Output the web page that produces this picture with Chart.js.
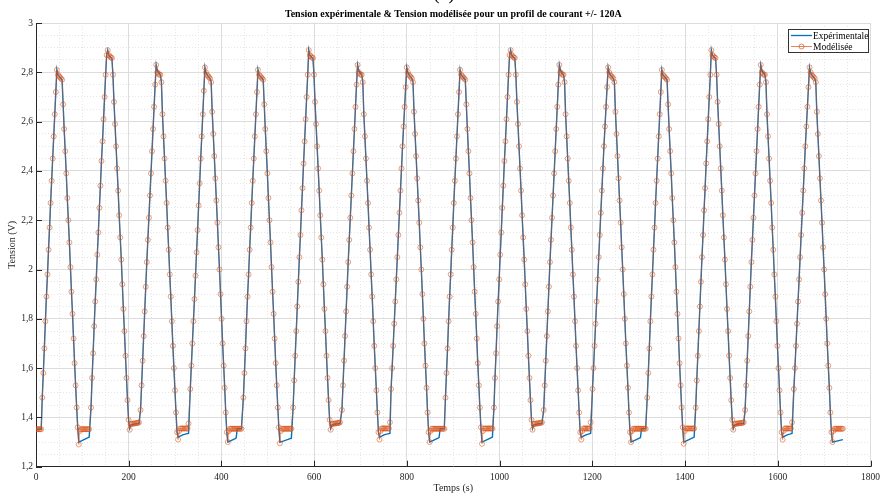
<!DOCTYPE html>
<html>
<head>
<meta charset="utf-8">
<script src="https://cdn.jsdelivr.net/npm/chart.js@4.4.1/dist/chart.umd.min.js"></script>
<style>
  html, body { margin: 0; padding: 0; background: #fff; }
  #wrap { width: 885px; height: 494px; }
</style>
</head>
<body>
<div id="wrap"><canvas id="chart" width="885" height="494"></canvas></div>
<script>
// sampling period of the recorded profile (s) and start time of each cycle (s)
const sampleStep = 2.25;
const cycleStart = [0, 118.7, 225.5, 332.8, 447.3, 554.6, 659.9, 765.9, 883.2, 987.8, 1095.1, 1200.3, 1318.4, 1423.0, 1529.5, 1634.7];

// Tension modélisée (V), one array per cycle
const modelCycles = [
  [1.352,1.352,1.352,1.352,1.352,1.352, 1.48,1.58,1.68,1.79,1.89,1.98,2.08,2.17,2.27,2.36,2.45,2.54,2.63,2.72,2.81, 2.79,2.785,2.78,2.775,2.77, 2.67,2.57,2.48,2.39,2.29,2.2,2.11,2.01,1.91,1.82,1.72,1.62,1.53,1.44,1.36, 1.29, 1.345,1.352,1.352,1.352,1.352,1.352,1.352,1.352,1.352,1.352],
  [1.44,1.56,1.66,1.77,1.87,1.96,2.06,2.15,2.25,2.34,2.44,2.52,2.61,2.7,2.79,2.87,2.89, 2.87,2.865,2.86,2.858, 2.79,2.68,2.59,2.5,2.41,2.32,2.22,2.13,2.04,1.94,1.84,1.75,1.65,1.56,1.47,1.39, 1.35, 1.372,1.374,1.375,1.375,1.376,1.376,1.377,1.378,1.38],
  [1.43,1.53,1.63,1.73,1.83,1.93,2.03,2.12,2.21,2.3,2.39,2.48,2.57,2.66,2.75,2.83, 2.8,2.795,2.79,2.79, 2.76,2.63,2.54,2.45,2.36,2.27,2.17,2.08,1.98,1.89,1.79,1.69,1.6,1.51,1.42,1.34, 1.31, 1.345,1.355,1.355,1.355,1.355,1.355,1.355,1.355,1.355,1.375],
  [1.515,1.61,1.7,1.79,1.88,1.975,2.07,2.16,2.26,2.35,2.45,2.54,2.63,2.725,2.82, 2.8,2.79,2.785,2.78,2.775, 2.76,2.64,2.55,2.46,2.37,2.28,2.19,2.09,2.0,1.9,1.8,1.7,1.61,1.52,1.42,1.34, 1.3, 1.345,1.354,1.354,1.354,1.354,1.354,1.354,1.354,1.354,1.354,1.354,1.354,1.354],
  [1.48,1.58,1.68,1.79,1.89,1.98,2.08,2.17,2.27,2.36,2.45,2.54,2.63,2.72,2.81, 2.79,2.785,2.78,2.775,2.77, 2.67,2.57,2.48,2.39,2.29,2.2,2.11,2.01,1.91,1.82,1.72,1.62,1.53,1.44,1.36, 1.295, 1.345,1.354,1.354,1.354,1.354,1.354,1.354,1.354,1.354,1.354,1.354],
  [1.44,1.55,1.65,1.75,1.85,1.95,2.05,2.14,2.24,2.33,2.43,2.52,2.61,2.7,2.79,2.89, 2.87,2.865,2.86,2.858, 2.79,2.68,2.59,2.5,2.41,2.32,2.22,2.13,2.04,1.94,1.84,1.75,1.65,1.56,1.47,1.39, 1.35, 1.372,1.374,1.375,1.375,1.376,1.376,1.377,1.378,1.38],
  [1.43,1.53,1.63,1.73,1.83,1.93,2.03,2.12,2.21,2.3,2.39,2.48,2.57,2.66,2.75,2.83, 2.8,2.795,2.79,2.79, 2.76,2.63,2.54,2.45,2.36,2.27,2.17,2.08,1.98,1.89,1.79,1.69,1.6,1.51,1.42,1.34, 1.31, 1.345,1.355,1.355,1.355,1.355,1.355,1.355,1.355,1.355,1.38],
  [1.515,1.6,1.69,1.78,1.87,1.96,2.05,2.14,2.23,2.32,2.41,2.5,2.58,2.66,2.74,2.82, 2.8,2.79,2.785,2.78,2.775, 2.76,2.64,2.55,2.46,2.37,2.28,2.19,2.09,2.0,1.9,1.8,1.7,1.61,1.52,1.42,1.34, 1.3, 1.345,1.354,1.354,1.354,1.354,1.354,1.354,1.354,1.354,1.354,1.354,1.354,1.354,1.354],
  [1.48,1.58,1.68,1.79,1.89,1.98,2.08,2.17,2.27,2.36,2.45,2.54,2.63,2.72,2.81, 2.79,2.785,2.78,2.775,2.77, 2.67,2.57,2.48,2.39,2.29,2.2,2.11,2.01,1.91,1.82,1.72,1.62,1.53,1.44,1.36, 1.293, 1.345,1.355,1.355,1.355,1.355,1.355,1.355,1.355,1.355,1.355],
  [1.44,1.56,1.66,1.77,1.87,1.96,2.06,2.15,2.25,2.34,2.44,2.52,2.61,2.7,2.79,2.87,2.89, 2.87,2.865,2.86,2.858, 2.79,2.68,2.59,2.5,2.41,2.32,2.22,2.13,2.04,1.94,1.84,1.75,1.65,1.56,1.47,1.39, 1.35, 1.372,1.374,1.375,1.375,1.376,1.376,1.377,1.378,1.38],
  [1.43,1.53,1.63,1.73,1.83,1.93,2.03,2.12,2.21,2.3,2.39,2.48,2.57,2.66,2.75,2.83, 2.8,2.795,2.79,2.79, 2.76,2.63,2.54,2.45,2.36,2.27,2.17,2.08,1.98,1.89,1.79,1.69,1.6,1.51,1.42,1.34, 1.31, 1.345,1.355,1.355,1.355,1.355,1.355,1.355,1.355,1.38],
  [1.515,1.6,1.69,1.78,1.87,1.96,2.05,2.14,2.23,2.32,2.41,2.5,2.58,2.66,2.74,2.82, 2.8,2.79,2.785,2.78,2.775, 2.76,2.64,2.55,2.46,2.37,2.28,2.19,2.09,2.0,1.9,1.8,1.7,1.61,1.52,1.42,1.34, 1.3, 1.345,1.354,1.354,1.354,1.354,1.354,1.354,1.354,1.354,1.354,1.354,1.354,1.354,1.354],
  [1.48,1.58,1.68,1.79,1.89,1.98,2.08,2.17,2.27,2.36,2.45,2.54,2.63,2.72,2.81, 2.79,2.785,2.78,2.775,2.77, 2.67,2.57,2.48,2.39,2.29,2.2,2.11,2.01,1.91,1.82,1.72,1.62,1.53,1.44,1.36, 1.293, 1.345,1.355,1.355,1.355,1.355,1.355,1.355,1.355,1.355,1.355],
  [1.44,1.55,1.65,1.75,1.85,1.95,2.05,2.14,2.24,2.33,2.43,2.52,2.61,2.7,2.79,2.89, 2.87,2.865,2.86,2.858, 2.79,2.68,2.59,2.5,2.41,2.32,2.22,2.13,2.04,1.94,1.84,1.75,1.65,1.56,1.47,1.39, 1.35, 1.372,1.374,1.375,1.375,1.376,1.376,1.377,1.377,1.378,1.38],
  [1.43,1.53,1.63,1.73,1.83,1.93,2.03,2.12,2.21,2.3,2.39,2.48,2.57,2.66,2.75,2.83, 2.8,2.795,2.79,2.79, 2.76,2.63,2.54,2.45,2.36,2.27,2.17,2.08,1.98,1.89,1.79,1.69,1.6,1.51,1.42,1.34, 1.31, 1.345,1.355,1.355,1.355,1.355,1.355,1.355,1.355,1.38],
  [1.515,1.6,1.69,1.78,1.87,1.96,2.05,2.14,2.23,2.32,2.41,2.5,2.58,2.66,2.74,2.82, 2.8,2.79,2.785,2.78,2.775, 2.76,2.64,2.55,2.46,2.37,2.28,2.19,2.09,2.0,1.9,1.8,1.7,1.61,1.52,1.42,1.34, 1.3, 1.345,1.354,1.354,1.354,1.354,1.354,1.354,1.354,1.354,1.354]
];

// Tension expérimentale (V), same sampling
const expCycles = [
  [1.352,1.352,1.352,1.352,1.352,1.352, 1.48,1.58,1.68,1.79,1.89,1.98,2.08,2.17,2.27,2.36,2.45,2.54,2.63,2.72,2.81, 2.79,2.785,2.78,2.775,2.77, 2.67,2.57,2.48,2.39,2.29,2.2,2.11,2.01,1.91,1.82,1.72,1.62,1.53,1.44,1.36, 1.3, 1.302,1.304,1.306,1.308,1.31,1.312,1.314,1.316,1.318,1.32],
  [1.44,1.56,1.66,1.77,1.87,1.96,2.06,2.15,2.25,2.34,2.44,2.52,2.61,2.7,2.79,2.87,2.89, 2.87,2.865,2.86,2.858, 2.79,2.68,2.59,2.5,2.41,2.32,2.22,2.13,2.04,1.94,1.84,1.75,1.65,1.56,1.47,1.39, 1.355, 1.368,1.37,1.371,1.372,1.373,1.374,1.374,1.375,1.376],
  [1.43,1.53,1.63,1.73,1.83,1.93,2.03,2.12,2.21,2.3,2.39,2.48,2.57,2.66,2.75,2.83, 2.81,2.8,2.795,2.79, 2.76,2.63,2.54,2.45,2.36,2.27,2.17,2.08,1.98,1.89,1.79,1.69,1.6,1.51,1.42,1.34, 1.32, 1.322,1.324,1.326,1.328,1.33,1.331,1.332,1.333,1.334,1.335],
  [1.515,1.61,1.7,1.79,1.88,1.975,2.07,2.16,2.26,2.35,2.45,2.54,2.63,2.725,2.82, 2.8,2.79,2.785,2.78,2.775, 2.76,2.64,2.55,2.46,2.37,2.28,2.19,2.09,2.0,1.9,1.8,1.7,1.61,1.52,1.42,1.34, 1.3, 1.302,1.304,1.306,1.308,1.31,1.312,1.314,1.317,1.354,1.354,1.354,1.354,1.354],
  [1.48,1.58,1.68,1.79,1.89,1.98,2.08,2.17,2.27,2.36,2.45,2.54,2.63,2.72,2.81, 2.79,2.785,2.78,2.775,2.77, 2.67,2.57,2.48,2.39,2.29,2.2,2.11,2.01,1.91,1.82,1.72,1.62,1.53,1.44,1.36, 1.3, 1.301,1.302,1.304,1.305,1.307,1.308,1.31,1.311,1.313,1.314,1.315],
  [1.44,1.55,1.65,1.75,1.85,1.95,2.05,2.14,2.24,2.33,2.43,2.52,2.61,2.7,2.79,2.89, 2.87,2.865,2.86,2.858, 2.79,2.68,2.59,2.5,2.41,2.32,2.22,2.13,2.04,1.94,1.84,1.75,1.65,1.56,1.47,1.39, 1.355, 1.368,1.37,1.371,1.372,1.373,1.374,1.374,1.375,1.376],
  [1.43,1.53,1.63,1.73,1.83,1.93,2.03,2.12,2.21,2.3,2.39,2.48,2.57,2.66,2.75,2.83, 2.81,2.8,2.795,2.79, 2.76,2.63,2.54,2.45,2.36,2.27,2.17,2.08,1.98,1.89,1.79,1.69,1.6,1.51,1.42,1.34, 1.32, 1.322,1.324,1.326,1.328,1.33,1.331,1.332,1.333,1.334,1.335],
  [1.515,1.6,1.69,1.78,1.87,1.96,2.05,2.14,2.23,2.32,2.41,2.5,2.58,2.66,2.74,2.82, 2.8,2.79,2.785,2.78,2.775, 2.76,2.64,2.55,2.46,2.37,2.28,2.19,2.09,2.0,1.9,1.8,1.7,1.61,1.52,1.42,1.34, 1.3, 1.302,1.304,1.306,1.308,1.31,1.312,1.314,1.316,1.318,1.354,1.354,1.354,1.354,1.354],
  [1.48,1.58,1.68,1.79,1.89,1.98,2.08,2.17,2.27,2.36,2.45,2.54,2.63,2.72,2.81, 2.79,2.785,2.78,2.775,2.77, 2.67,2.57,2.48,2.39,2.29,2.2,2.11,2.01,1.91,1.82,1.72,1.62,1.53,1.44,1.36, 1.3, 1.302,1.304,1.306,1.308,1.31,1.312,1.314,1.316,1.318,1.32],
  [1.44,1.56,1.66,1.77,1.87,1.96,2.06,2.15,2.25,2.34,2.44,2.52,2.61,2.7,2.79,2.87,2.89, 2.87,2.865,2.86,2.858, 2.79,2.68,2.59,2.5,2.41,2.32,2.22,2.13,2.04,1.94,1.84,1.75,1.65,1.56,1.47,1.39, 1.355, 1.368,1.37,1.371,1.372,1.373,1.374,1.374,1.375,1.376],
  [1.43,1.53,1.63,1.73,1.83,1.93,2.03,2.12,2.21,2.3,2.39,2.48,2.57,2.66,2.75,2.83, 2.81,2.8,2.795,2.79, 2.76,2.63,2.54,2.45,2.36,2.27,2.17,2.08,1.98,1.89,1.79,1.69,1.6,1.51,1.42,1.34, 1.32, 1.322,1.324,1.326,1.328,1.33,1.331,1.332,1.334,1.335],
  [1.515,1.6,1.69,1.78,1.87,1.96,2.05,2.14,2.23,2.32,2.41,2.5,2.58,2.66,2.74,2.82, 2.8,2.79,2.785,2.78,2.775, 2.76,2.64,2.55,2.46,2.37,2.28,2.19,2.09,2.0,1.9,1.8,1.7,1.61,1.52,1.42,1.34, 1.3, 1.302,1.304,1.306,1.308,1.31,1.312,1.314,1.316,1.318,1.354,1.354,1.354,1.354,1.354],
  [1.48,1.58,1.68,1.79,1.89,1.98,2.08,2.17,2.27,2.36,2.45,2.54,2.63,2.72,2.81, 2.79,2.785,2.78,2.775,2.77, 2.67,2.57,2.48,2.39,2.29,2.2,2.11,2.01,1.91,1.82,1.72,1.62,1.53,1.44,1.36, 1.3, 1.302,1.304,1.306,1.308,1.31,1.312,1.314,1.316,1.318,1.32],
  [1.44,1.55,1.65,1.75,1.85,1.95,2.05,2.14,2.24,2.33,2.43,2.52,2.61,2.7,2.79,2.89, 2.87,2.865,2.86,2.858, 2.79,2.68,2.59,2.5,2.41,2.32,2.22,2.13,2.04,1.94,1.84,1.75,1.65,1.56,1.47,1.39, 1.355, 1.368,1.37,1.371,1.372,1.373,1.374,1.374,1.375,1.375,1.376],
  [1.43,1.53,1.63,1.73,1.83,1.93,2.03,2.12,2.21,2.3,2.39,2.48,2.57,2.66,2.75,2.83, 2.81,2.8,2.795,2.79, 2.76,2.63,2.54,2.45,2.36,2.27,2.17,2.08,1.98,1.89,1.79,1.69,1.6,1.51,1.42,1.34, 1.32, 1.322,1.324,1.326,1.328,1.33,1.331,1.332,1.334,1.335],
  [1.515,1.6,1.69,1.78,1.87,1.96,2.05,2.14,2.23,2.32,2.41,2.5,2.58,2.66,2.74,2.82, 2.8,2.79,2.785,2.78,2.775, 2.76,2.64,2.55,2.46,2.37,2.28,2.19,2.09,2.0,1.9,1.8,1.7,1.61,1.52,1.42,1.34, 1.3, 1.301,1.302,1.303,1.304,1.305,1.306,1.307,1.308,1.309,1.31]
];

const xTicks = [0, 200, 400, 600, 800, 1000, 1200, 1400, 1600, 1800];
const yTicks = [1.2, 1.4, 1.6, 1.8, 2, 2.2, 2.4, 2.6, 2.8, 3];

const titleText = 'Tension expérimentale & Tension modélisée pour un profil de courant +/- 120A';
const serif = '"Liberation Serif", "Times New Roman", serif';
const blue = '#0072BD';
const orange = '#D95319';
const orangeSoft = 'rgba(217,83,25,0.8)';

function toPoints(cycles) {
  return cycles.flatMap((vals, c) => vals.map((v, i) => ({ x: cycleStart[c] + i * sampleStep, y: v })));
}

// title, legend box and inward ticks in the MATLAB style
const decor = {
  id: 'decor',
  afterDraw(chart) {
    const ctx = chart.ctx;
    const a = chart.chartArea;
    const sx = chart.scales.x, sy = chart.scales.y;
    ctx.save();

    ctx.strokeStyle = '#262626';
    ctx.lineWidth = 1;
    ctx.beginPath();
    xTicks.forEach(v => {
      const px = Math.round(sx.getPixelForValue(v)) + 0.5;
      ctx.moveTo(px, a.bottom);
      ctx.lineTo(px, a.bottom - 6);
    });
    yTicks.forEach(v => {
      const py = Math.round(sy.getPixelForValue(v)) + 0.5;
      ctx.moveTo(a.left, py);
      ctx.lineTo(a.left + 6, py);
    });
    ctx.stroke();

    ctx.fillStyle = '#000';
    ctx.textAlign = 'center';
    ctx.textBaseline = 'alphabetic';
    ctx.font = '20px ' + serif;
    ctx.fillText('(a)', 444, -1);

    ctx.font = 'bold 10px ' + serif;
    ctx.textBaseline = 'middle';
    ctx.fillText(titleText, (a.left + a.right) / 2, 14);

    // legend
    const bx = 788.5, by = 29.5, bw = 80, bh = 23;
    ctx.fillStyle = '#fff';
    ctx.fillRect(bx, by, bw, bh);
    ctx.strokeStyle = '#333';
    ctx.strokeRect(bx, by, bw, bh);
    ctx.lineWidth = 1.3;
    ctx.strokeStyle = blue;
    ctx.beginPath();
    ctx.moveTo(791, 35.5); ctx.lineTo(812, 35.5);
    ctx.stroke();
    ctx.lineWidth = 0.9;
    ctx.strokeStyle = orangeSoft;
    ctx.beginPath();
    ctx.moveTo(791, 46.5); ctx.lineTo(812, 46.5);
    ctx.stroke();
    ctx.beginPath();
    ctx.arc(801.5, 46.5, 2.5, 0, Math.PI * 2);
    ctx.stroke();
    ctx.fillStyle = '#000';
    ctx.textAlign = 'left';
    ctx.font = '9.5px ' + serif;
    ctx.fillText('Expérimentale', 813, 36);
    ctx.fillText('Modélisée', 813, 47);
    ctx.restore();
  }
};

const tickFont = { family: serif, size: 9.5 };

new Chart(document.getElementById('chart'), {
  type: 'line',
  data: {
    datasets: [
      {
        label: 'Expérimentale',
        data: toPoints(expCycles),
        borderColor: blue,
        borderWidth: 1.4,
        pointRadius: 0,
        tension: 0,
        order: 1
      },
      {
        label: 'Modélisée',
        data: toPoints(modelCycles),
        borderColor: 'rgba(217,83,25,0.75)',
        borderWidth: 0.7,
        pointRadius: 2.5,
        pointStyle: 'circle',
        pointBorderColor: orangeSoft,
        pointBackgroundColor: 'rgba(0,0,0,0)',
        pointBorderWidth: 0.7,
        tension: 0,
        order: 0
      }
    ]
  },
  options: {
    responsive: false,
    animation: false,
    events: [],
    layout: { padding: { top: 23, right: 10.7, bottom: 0, left: 0 } },
    plugins: {
      legend: { display: false },
      title: { display: false },
      tooltip: { enabled: false }
    },
    scales: {
      xMinor: {
        type: 'linear', position: 'bottom', min: 0, max: 1800, z: -1,
        ticks: { display: false, stepSize: 50 },
        grid: { color: '#e6e6e6', drawTicks: false },
        border: { display: false, dash: [1, 2] },
        afterFit: s => { s.height = 0; }
      },
      yMinor: {
        type: 'linear', position: 'left', min: 1.2, max: 3, z: -1,
        ticks: { display: false, stepSize: 0.05 },
        grid: { color: '#e6e6e6', drawTicks: false },
        border: { display: false, dash: [1, 2] },
        afterFit: s => { s.width = 0; }
      },
      x: {
        type: 'linear', position: 'bottom', min: 0, max: 1800,
        afterBuildTicks: s => { s.ticks = xTicks.map(v => ({ value: v })); },
        grid: { color: '#dcdcdc', drawTicks: false },
        border: { display: true, color: '#262626', width: 1 },
        ticks: { font: tickFont, color: '#262626', padding: 5, maxRotation: 0, callback: v => String(v) },
        title: { display: true, text: 'Temps (s)', font: { family: serif, size: 10 }, color: '#262626', padding: { top: 0, bottom: 0 } },
        afterFit: s => { s.height = 27.3; }
      },
      y: {
        type: 'linear', position: 'left', min: 1.2, max: 3,
        afterBuildTicks: s => { s.ticks = yTicks.map(v => ({ value: v })); },
        grid: { color: '#dcdcdc', drawTicks: false },
        border: { display: true, color: '#262626', width: 1 },
        ticks: { font: tickFont, color: '#262626', padding: 3, callback: v => String(v).replace('.', ',') },
        title: { display: true, text: 'Tension (V)', font: { family: serif, size: 10 }, color: '#262626', padding: { top: 6, bottom: 0 } },
        afterFit: s => { s.width = 36; }
      }
    }
  },
  plugins: [decor]
});
</script>
</body>
</html>
